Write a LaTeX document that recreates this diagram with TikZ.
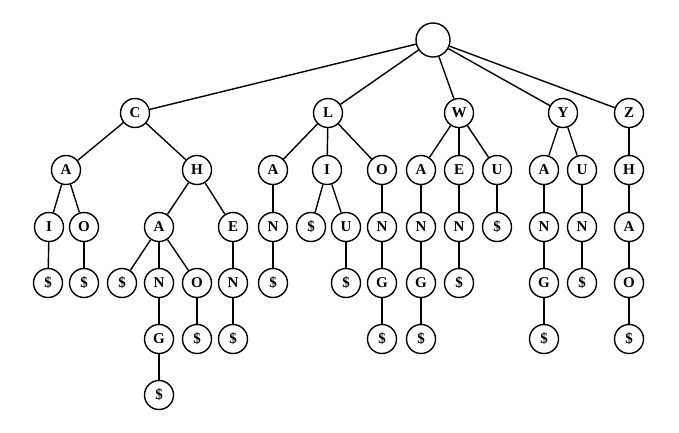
\documentclass[tikz,border=0pt]{standalone}
\usepackage{fontspec}
\setmainfont{Liberation Serif}
\tikzset{
  trie/.style={draw,circle,line width=1.4pt,minimum size=29pt,inner sep=0pt,font=\fontsize{15}{17}\selectfont\bfseries},
  link/.style={line width=1.4pt}
}
\begin{document}
\begin{tikzpicture}[x=1pt,y=-1pt]
    \useasboundingbox (0,0) rectangle (679,432);
    % root and first letters
    \node[trie,minimum size=34pt] (r) at (433,40) {};
    \node[trie] (c) at (135,113) {C};
    \node[trie] (l) at (328,113) {L};
    \node[trie] (w) at (459,113) {W};
    \node[trie] (y) at (563,113) {Y};
    \node[trie] (z) at (629,113) {Z};
    % second letters
    \node[trie] (ca) at (66,170) {A};
    \node[trie] (ch) at (197,170) {H};
    \node[trie] (la) at (273,170) {A};
    \node[trie] (li) at (327,170) {I};
    \node[trie] (lo) at (382,170) {O};
    \node[trie] (wa) at (421,170) {A};
    \node[trie] (we) at (459,170) {E};
    \node[trie] (wu) at (497,170) {U};
    \node[trie] (ya) at (544,170) {A};
    \node[trie] (yu) at (582,170) {U};
    \node[trie] (zh) at (629,170) {H};
    % third letters
    \node[trie] (cai) at (49,227) {I};
    \node[trie] (cao) at (84,227) {O};
    \node[trie] (cha) at (159,227) {A};
    \node[trie] (che) at (233,227) {E};
    \node[trie] (lan) at (273,227) {N};
    \node[trie] (lie) at (311,227) {\$};
    \node[trie] (liu) at (346,227) {U};
    \node[trie] (lon) at (382,227) {N};
    \node[trie] (wan) at (421,227) {N};
    \node[trie] (wen) at (459,227) {N};
    \node[trie] (wue) at (497,227) {\$};
    \node[trie] (yan) at (544,227) {N};
    \node[trie] (yun) at (582,227) {N};
    \node[trie] (zha) at (629,227) {A};
    % fourth letters
    \node[trie] (caie) at (48,283) {\$};
    \node[trie] (caoe) at (84,283) {\$};
    \node[trie] (chae) at (122,283) {\$};
    \node[trie] (chan) at (159,283) {N};
    \node[trie] (chao) at (197,283) {O};
    \node[trie] (chen) at (233,283) {N};
    \node[trie] (lane) at (273,283) {\$};
    \node[trie] (liue) at (346,283) {\$};
    \node[trie] (long) at (382,283) {G};
    \node[trie] (wang) at (421,283) {G};
    \node[trie] (wene) at (459,283) {\$};
    \node[trie] (yang) at (544,283) {G};
    \node[trie] (yune) at (582,283) {\$};
    \node[trie] (zhao) at (629,283) {O};
    % fifth letters
    \node[trie] (chang) at (159,339) {G};
    \node[trie] (chaoe) at (197,339) {\$};
    \node[trie] (chene) at (233,339) {\$};
    \node[trie] (longe) at (382,339) {\$};
    \node[trie] (wange) at (421,339) {\$};
    \node[trie] (yange) at (544,339) {\$};
    \node[trie] (zhaoe) at (629,339) {\$};
    \node[trie] (change) at (159,395) {\$};
    % links
    \draw[link] (r) -- (c);
    \draw[link] (r) -- (l);
    \draw[link] (r) -- (w);
    \draw[link] (r) -- (y);
    \draw[link] (r) -- (z);
    \draw[link] (c) -- (ca);
    \draw[link] (c) -- (ch);
    \draw[link] (l) -- (la);
    \draw[link] (l) -- (li);
    \draw[link] (l) -- (lo);
    \draw[link] (w) -- (wa);
    \draw[link] (w) -- (we);
    \draw[link] (w) -- (wu);
    \draw[link] (y) -- (ya);
    \draw[link] (y) -- (yu);
    \draw[link] (z) -- (zh);
    \draw[link] (ca) -- (cai);
    \draw[link] (ca) -- (cao);
    \draw[link] (ch) -- (cha);
    \draw[link] (ch) -- (che);
    \draw[link] (la) -- (lan);
    \draw[link] (li) -- (lie);
    \draw[link] (li) -- (liu);
    \draw[link] (lo) -- (lon);
    \draw[link] (wa) -- (wan);
    \draw[link] (we) -- (wen);
    \draw[link] (wu) -- (wue);
    \draw[link] (ya) -- (yan);
    \draw[link] (yu) -- (yun);
    \draw[link] (zh) -- (zha);
    \draw[link] (cai) -- (caie);
    \draw[link] (cao) -- (caoe);
    \draw[link] (cha) -- (chae);
    \draw[link] (cha) -- (chan);
    \draw[link] (cha) -- (chao);
    \draw[link] (che) -- (chen);
    \draw[link] (lan) -- (lane);
    \draw[link] (liu) -- (liue);
    \draw[link] (lon) -- (long);
    \draw[link] (wan) -- (wang);
    \draw[link] (wen) -- (wene);
    \draw[link] (yan) -- (yang);
    \draw[link] (yun) -- (yune);
    \draw[link] (zha) -- (zhao);
    \draw[link] (chan) -- (chang);
    \draw[link] (chao) -- (chaoe);
    \draw[link] (chen) -- (chene);
    \draw[link] (long) -- (longe);
    \draw[link] (wang) -- (wange);
    \draw[link] (yang) -- (yange);
    \draw[link] (zhao) -- (zhaoe);
    \draw[link] (chang) -- (change);
\end{tikzpicture}
\end{document}
